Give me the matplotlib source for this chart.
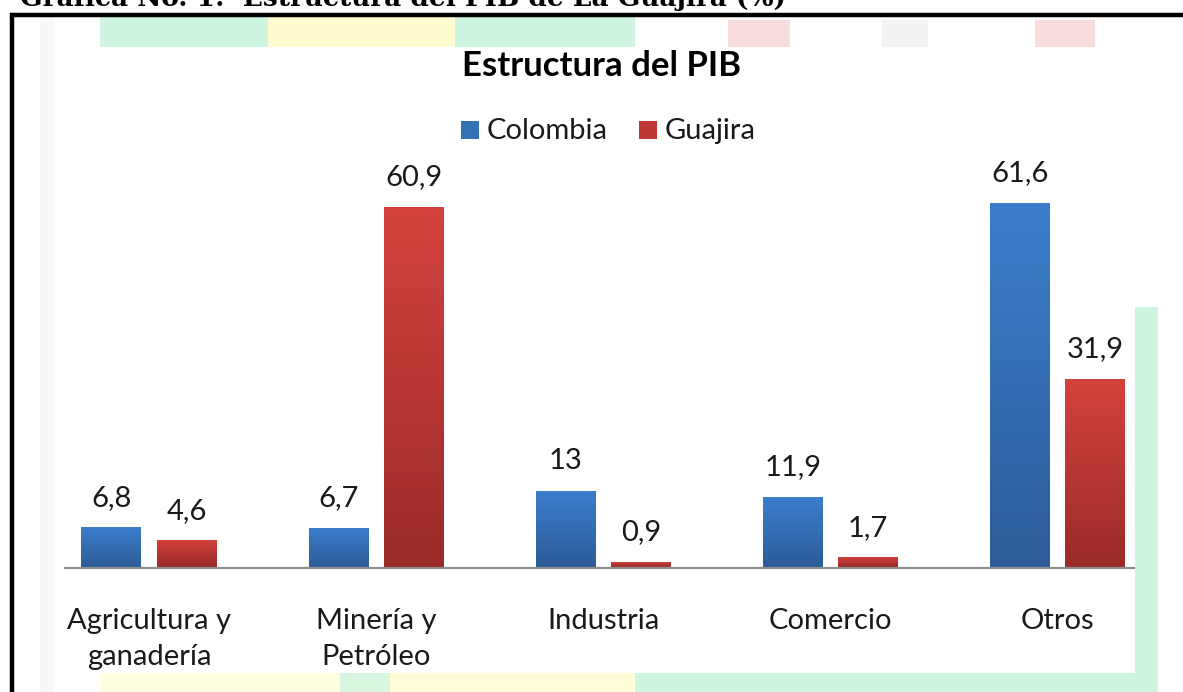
import numpy as np
import matplotlib.pyplot as plt
from matplotlib.patches import Rectangle
from matplotlib.colors import LinearSegmentedColormap

# datos: estructura del PIB (%)
sectores = ["Agricultura y\nganadería", "Minería y\nPetróleo", "Industria", "Comercio", "Otros"]
colombia = [6.8, 6.7, 13, 11.9, 61.6]
guajira = [4.6, 60.9, 0.9, 1.7, 31.9]
series = ["Colombia", "Guajira"]

W, H = 1183, 692
FONT = ["Lato", "DejaVu Sans"]

# escala de la grafica en pixeles
X0, PX_CAT = 148.9, 227.2
Y0, PX_UNIT = 567.5, 5.92


def fx(px):
    return px / W


def fy(py):
    return 1 - py / H


fig = plt.figure(figsize=(W / 100, H / 100), dpi=100)
fig.patch.set_facecolor("white")

# manchas de color del escaneo
manchas = [
    (100, 16, 168, 31, "#cdf5e0"), (268, 16, 187, 31, "#fffdd0"), (455, 16, 180, 31, "#cdf5e0"),
    (728, 20, 62, 27, "#f9dcdc"), (882, 20, 46, 27, "#f3f3f3"), (1035, 20, 60, 27, "#f9dcdc"),
    (1135, 307, 23, 385, "#cdf5e0"), (100, 673, 240, 19, "#fffde0"), (340, 673, 50, 19, "#d8f5e0"),
    (390, 673, 245, 19, "#fffdd8"), (635, 673, 500, 19, "#cdf5e0"), (40, 16, 15, 676, "#f8f8f8"),
]
for x, y, w, h, c in manchas:
    fig.patches.append(Rectangle((fx(x), fy(y + h)), w / W, h / H, transform=fig.transFigure,
                                 facecolor=c, edgecolor="none", zorder=0))

# marco negro
fig.patches.append(Rectangle((fx(12), fy(H + 20)), 1.2, (H + 5) / H, transform=fig.transFigure,
                             facecolor="none", edgecolor="black", linewidth=3.2, zorder=1))

fig.text(fx(20), fy(6), "Gráfica No. 1:  Estructura del PIB de La Guajira (%)",
         family="DejaVu Serif", fontweight="bold", fontsize=19, va="baseline", ha="left")

ax = fig.add_axes([0, 0, 1, 1])
ax.set_xlim(-X0 / PX_CAT, (W - X0) / PX_CAT)
ax.set_ylim((Y0 - H) / PX_UNIT, Y0 / PX_UNIT)
ax.axis("off")
ax.patch.set_alpha(0)

x = np.arange(len(sectores))
off, bw = 0.1655, 0.264
grad_azul = ["#3c7ecd", "#2c5c98"]
grad_rojo = ["#d4423e", "#9a2b29"]

cmaps = [LinearSegmentedColormap.from_list("az", grad_azul[::-1]),
         LinearSegmentedColormap.from_list("ro", grad_rojo[::-1])]
grad = np.linspace(0, 1, 256).reshape(-1, 1)

for i, (vals, cm) in enumerate(zip([colombia, guajira], cmaps)):
    bars = ax.bar(x + (2 * i - 1) * off, vals, bw, color="none", zorder=3)
    for b, v in zip(bars, vals):
        bx, by = b.get_x(), b.get_y()
        im = ax.imshow(grad, cmap=cm, aspect="auto", origin="lower",
                       extent=[bx, bx + b.get_width(), by, by + b.get_height()], zorder=2)
        im.set_clip_path(b)
        ax.annotate(f"{v:g}".replace(".", ","), (b.get_x() + b.get_width() / 2, v),
                    xytext=(0, 12), textcoords="offset points", ha="center", va="bottom",
                    fontsize=21, family=FONT, color="#1a1a1a")

# linea base del eje
ax.plot([(65 - X0) / PX_CAT, (1136 - X0) / PX_CAT], [0, 0], color="#8c8c8c", lw=1.6, zorder=4)

for xi, s in zip(x, sectores):
    ax.annotate(s, (xi, 0), xytext=(0, -29), textcoords="offset points", ha="center", va="top",
                fontsize=21, family=FONT, color="#1a1a1a", linespacing=1.5)

fig.text(fx(602), fy(66), "Estructura del PIB", family=FONT, fontweight="bold",
         fontsize=25, ha="center", va="center")

# leyenda
for (sx, tx), nombre, c in zip([(461, 487), (639, 665)], series, ["#3570b5", "#be3734"]):
    fig.patches.append(Rectangle((fx(sx), fy(139)), 18 / W, 18 / H, transform=fig.transFigure,
                                 facecolor=c, edgecolor="none"))
    fig.text(fx(tx), fy(131), nombre, family=FONT, fontsize=21, ha="left", va="center",
             color="#1a1a1a")

fig.savefig("out.png", dpi=100)
